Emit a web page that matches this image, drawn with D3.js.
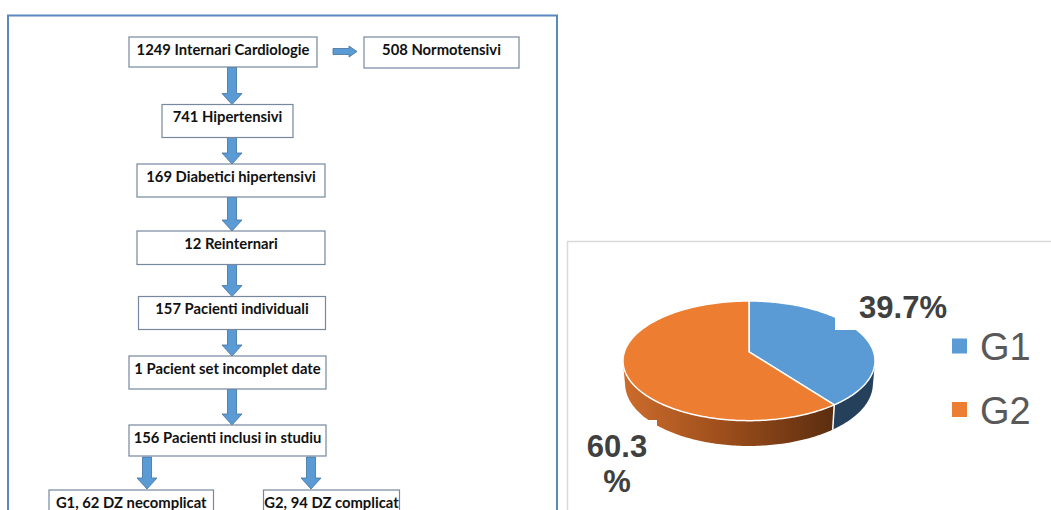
<!DOCTYPE html>
<html>
<head>
<meta charset="utf-8">
<script src="https://cdn.jsdelivr.net/npm/d3@7"></script>
<style>
  html, body { margin: 0; padding: 0; background: #fff; }
  svg { display: block; }
</style>
</head>
<body>
<svg id="chart" width="1051" height="510"></svg>
<script>
// ---- Patient selection flow ----
const flowSteps = [
  "1249 Internari Cardiologie",
  "741 Hipertensivi",
  "169 Diabetici hipertensivi",
  "12 Reinternari",
  "157 Pacienti individuali",
  "1 Pacient set incomplet date",
  "156 Pacienti inclusi in studiu"
];
const excludedStep = "508 Normotensivi";
const groupSteps = ["G1, 62 DZ necomplicat", "G2, 94 DZ complicat"];

// ---- Group split ----
const pieCategories = ["G1", "G2"];
const pieValues = [39.7, 60.3];
const pieLabelLines = [["39.7%"], ["60.3", "%"]];

// ---- Flowchart layout (box edges in px) ----
const stepBoxes = [
  { x0: 129, x1: 317, y0: 37, y1: 67 },
  { x0: 162, x1: 293, y0: 104.5, y1: 137.5 },
  { x0: 137, x1: 325, y0: 164, y1: 197 },
  { x0: 137, x1: 325, y0: 231, y1: 264.5 },
  { x0: 138.5, x1: 325.5, y0: 296.5, y1: 329.5 },
  { x0: 129, x1: 326, y0: 356, y1: 389 },
  { x0: 129, x1: 326, y0: 425, y1: 456 }
];
const excludedBox = { x0: 364, x1: 519, y0: 37, y1: 68 };
const groupBoxes = [
  { x0: 49, x1: 213.5, y0: 490, y1: 522 },
  { x0: 263.5, x1: 399.5, y0: 490, y1: 522 }
];
const mainArrowX = 232;
const groupArrowX = [147, 311];

const svg = d3.select("#chart");

// Left panel frame
svg.append("rect")
  .attr("x", 8).attr("y", 15.5).attr("width", 549).attr("height", 520)
  .attr("fill", "#fff").attr("stroke", "#5B88C2").attr("stroke-width", 2);

// Right panel frame
svg.append("rect")
  .attr("x", 567.5).attr("y", 241.5).attr("width", 500).attr("height", 300)
  .attr("fill", "#fff").attr("stroke", "#D9D9D9").attr("stroke-width", 1.5);

const flow = svg.append("g").attr("class", "flow");

const arrowFill = "#5B9BD5", arrowStroke = "#41719C";

function downArrow(x, y0, y1) {
  const shaft = 4.5, head = 10, headLen = 11;
  const p = d3.path();
  p.moveTo(x - shaft, y0);
  p.lineTo(x + shaft, y0);
  p.lineTo(x + shaft, y1 - headLen);
  p.lineTo(x + head, y1 - headLen);
  p.lineTo(x, y1);
  p.lineTo(x - head, y1 - headLen);
  p.lineTo(x - shaft, y1 - headLen);
  p.closePath();
  return p.toString();
}
function rightArrow(x0, x1, y) {
  const shaft = 3, head = 5.5, headLen = 8;
  const p = d3.path();
  p.moveTo(x0, y - shaft);
  p.lineTo(x1 - headLen, y - shaft);
  p.lineTo(x1 - headLen, y - head);
  p.lineTo(x1, y);
  p.lineTo(x1 - headLen, y + head);
  p.lineTo(x1 - headLen, y + shaft);
  p.lineTo(x0, y + shaft);
  p.closePath();
  return p.toString();
}

// Arrows down the main chain
const chainArrows = d3.pairs(stepBoxes).map(([a, b]) => downArrow(mainArrowX, a.y1, b.y0));
// Arrows into the two groups
const last = stepBoxes[stepBoxes.length - 1];
const splitArrows = groupBoxes.map((g, i) => downArrow(groupArrowX[i], last.y1 + 1, g.y0 - 1));
// Arrow to excluded patients
const sideArrow = rightArrow(stepBoxes[0].x1 + 16, excludedBox.x0 - 7, (excludedBox.y0 + excludedBox.y1) / 2 - 1);

flow.selectAll("path.arrow")
  .data(chainArrows.concat(splitArrows, [sideArrow]))
  .join("path")
  .attr("class", "arrow")
  .attr("d", d => d)
  .attr("fill", arrowFill)
  .attr("stroke", arrowStroke)
  .attr("stroke-width", 0.8);

const boxes = flowSteps.map((t, i) => ({ text: t, ...stepBoxes[i] }))
  .concat([{ text: excludedStep, ...excludedBox }])
  .concat(groupSteps.map((t, i) => ({ text: t, ...groupBoxes[i] })));

const boxG = flow.selectAll("g.box").data(boxes).join("g").attr("class", "box");
boxG.append("rect")
  .attr("x", d => d.x0).attr("y", d => d.y0)
  .attr("width", d => d.x1 - d.x0).attr("height", d => d.y1 - d.y0)
  .attr("fill", "#fff").attr("stroke", "#76879E").attr("stroke-width", 1.2);
boxG.append("text")
  .attr("x", d => (d.x0 + d.x1) / 2)
  .attr("y", d => Math.min((d.y0 + d.y1) / 2, d.y0 + 12.5))
  .attr("dy", "0.35em")
  .attr("text-anchor", "middle")
  .attr("font-family", "Lato, 'Open Sans', sans-serif")
  .attr("font-weight", 700)
  .attr("font-size", 14.8)
  .attr("fill", "#111")
  .text(d => d.text);

// ---- 3D pie in perspective ----
const tilt = 28 * Math.PI / 180;   // elevation of the camera
const dist = 5.9;                   // camera distance in pie radii
const thickness = 0.21;             // pie height in pie radii
const pieLeft = 623, pieRight = 875, pieTop = 301;

function project(X, Y, Z) {
  const w = dist + Y * Math.cos(tilt) - Z * Math.sin(tilt);
  return [X / w, -(Y * Math.sin(tilt) + Z * Math.cos(tilt)) / w];
}
function rim(theta, Z) { return project(Math.sin(theta), Math.cos(theta), Z); }

// Extent of the top rim, used to fit the projection into the panel
const rimSamples = d3.range(0, 360, 0.5).map(a => rim(a * Math.PI / 180, 0));
const [minX, maxX] = d3.extent(rimSamples, d => d[0]);
const minY = d3.min(rimSamples, d => d[1]);
const k = (pieRight - pieLeft) / (maxX - minX);
const xs = d3.scaleLinear().domain([minX, maxX]).range([pieLeft, pieRight]);
const ys = d3.scaleLinear().domain([minY, minY + 1]).range([pieTop, pieTop + k]);
const toScreen = p => [xs(p[0]), ys(p[1])];

const arcs = d3.pie().sort(null).value(d => d)(pieValues);
const topColors = ["#5B9BD5", "#ED7D31"];
const sideColors = ["#24405A", "url(#sideG2)"];

const defs = svg.append("defs");
const grad = defs.append("linearGradient").attr("id", "sideG2")
  .attr("gradientUnits", "userSpaceOnUse")
  .attr("x1", pieLeft).attr("x2", 836).attr("y1", 0).attr("y2", 0);
grad.selectAll("stop")
  .data([[0, "#CC6C2C"], [0.5, "#9A4C1B"], [1, "#5A2D0F"]])
  .join("stop")
  .attr("offset", d => d[0]).attr("stop-color", d => d[1]);

const line = d3.line();
const sampleAngles = (a0, a1) => {
  const n = Math.max(2, Math.ceil((a1 - a0) / (Math.PI / 180)));
  return d3.range(n + 1).map(i => a0 + (a1 - a0) * i / n);
};

// Visible part of the wall: where the outward normal faces the camera
const silhouette = Math.acos(-1 / (dist * Math.cos(tilt)));
const visLo = silhouette, visHi = 2 * Math.PI - silhouette;

const pieG = svg.append("g").attr("class", "pie");

arcs.forEach((a, i) => {
  const lo = Math.max(a.startAngle, visLo), hi = Math.min(a.endAngle, visHi);
  if (hi <= lo) return;
  const angs = sampleAngles(lo, hi);
  const pts = angs.map(t => toScreen(rim(t, 0)))
    .concat(angs.slice().reverse().map(t => toScreen(rim(t, -thickness))));
  pieG.append("path")
    .attr("d", line(pts) + "Z")
    .attr("fill", sideColors[i]);
});

// White seam on the wall where the slices meet
arcs.forEach(a => {
  const t = a.startAngle;
  if (t > visLo && t < visHi) {
    const p0 = toScreen(rim(t, 0)), p1 = toScreen(rim(t, -thickness));
    pieG.append("line")
      .attr("x1", p0[0]).attr("y1", p0[1]).attr("x2", p1[0]).attr("y2", p1[1])
      .attr("stroke", "#fff").attr("stroke-width", 1.5);
  }
});

// Top faces
const centre = toScreen(project(0, 0, 0));
arcs.forEach((a, i) => {
  const pts = [centre].concat(sampleAngles(a.startAngle, a.endAngle).map(t => toScreen(rim(t, 0))));
  pieG.append("path")
    .attr("d", line(pts) + "Z")
    .attr("fill", topColors[i])
    .attr("stroke", "#fff")
    .attr("stroke-width", 1.5)
    .attr("stroke-linejoin", "round");
});

// Data labels with white backgrounds
const labelBoxes = [
  { x: 835, y: 284, w: 122, h: 46, tx: 903, ty: 318, lh: 0 },
  { x: 577, y: 420, w: 80, h: 85, tx: 617, ty: 457, lh: 35 }
];
const labelG = svg.append("g").attr("class", "labels");
labelG.selectAll("rect").data(labelBoxes).join("rect")
  .attr("x", d => d.x).attr("y", d => d.y).attr("width", d => d.w).attr("height", d => d.h)
  .attr("fill", "#fff");
labelG.selectAll("text").data(labelBoxes).join("text")
  .attr("x", d => d.tx).attr("y", d => d.ty)
  .attr("text-anchor", "middle")
  .attr("font-family", "'Liberation Sans', Arial, sans-serif")
  .attr("font-weight", 700)
  .attr("font-size", 31)
  .attr("fill", "#404040")
  .each(function (d, i) {
    d3.select(this).selectAll("tspan").data(pieLabelLines[i]).join("tspan")
      .attr("x", d.tx)
      .attr("dy", (s, j) => j === 0 ? 0 : d.lh)
      .text(s => s);
  });

// Legend
const legendY = d3.scalePoint().domain(pieCategories).range([346, 409.5]);
const legend = svg.append("g").attr("class", "legend");
legend.selectAll("rect").data(pieCategories).join("rect")
  .attr("x", 952).attr("y", d => legendY(d) - 7.5)
  .attr("width", 15).attr("height", 15)
  .attr("fill", (d, i) => topColors[i]);
legend.selectAll("text").data(pieCategories).join("text")
  .attr("x", 980).attr("y", d => legendY(d) + 14)
  .attr("font-family", "'Liberation Sans', Arial, sans-serif")
  .attr("font-size", 38)
  .attr("fill", "#595959")
  .text(d => d);
</script>
</body>
</html>
